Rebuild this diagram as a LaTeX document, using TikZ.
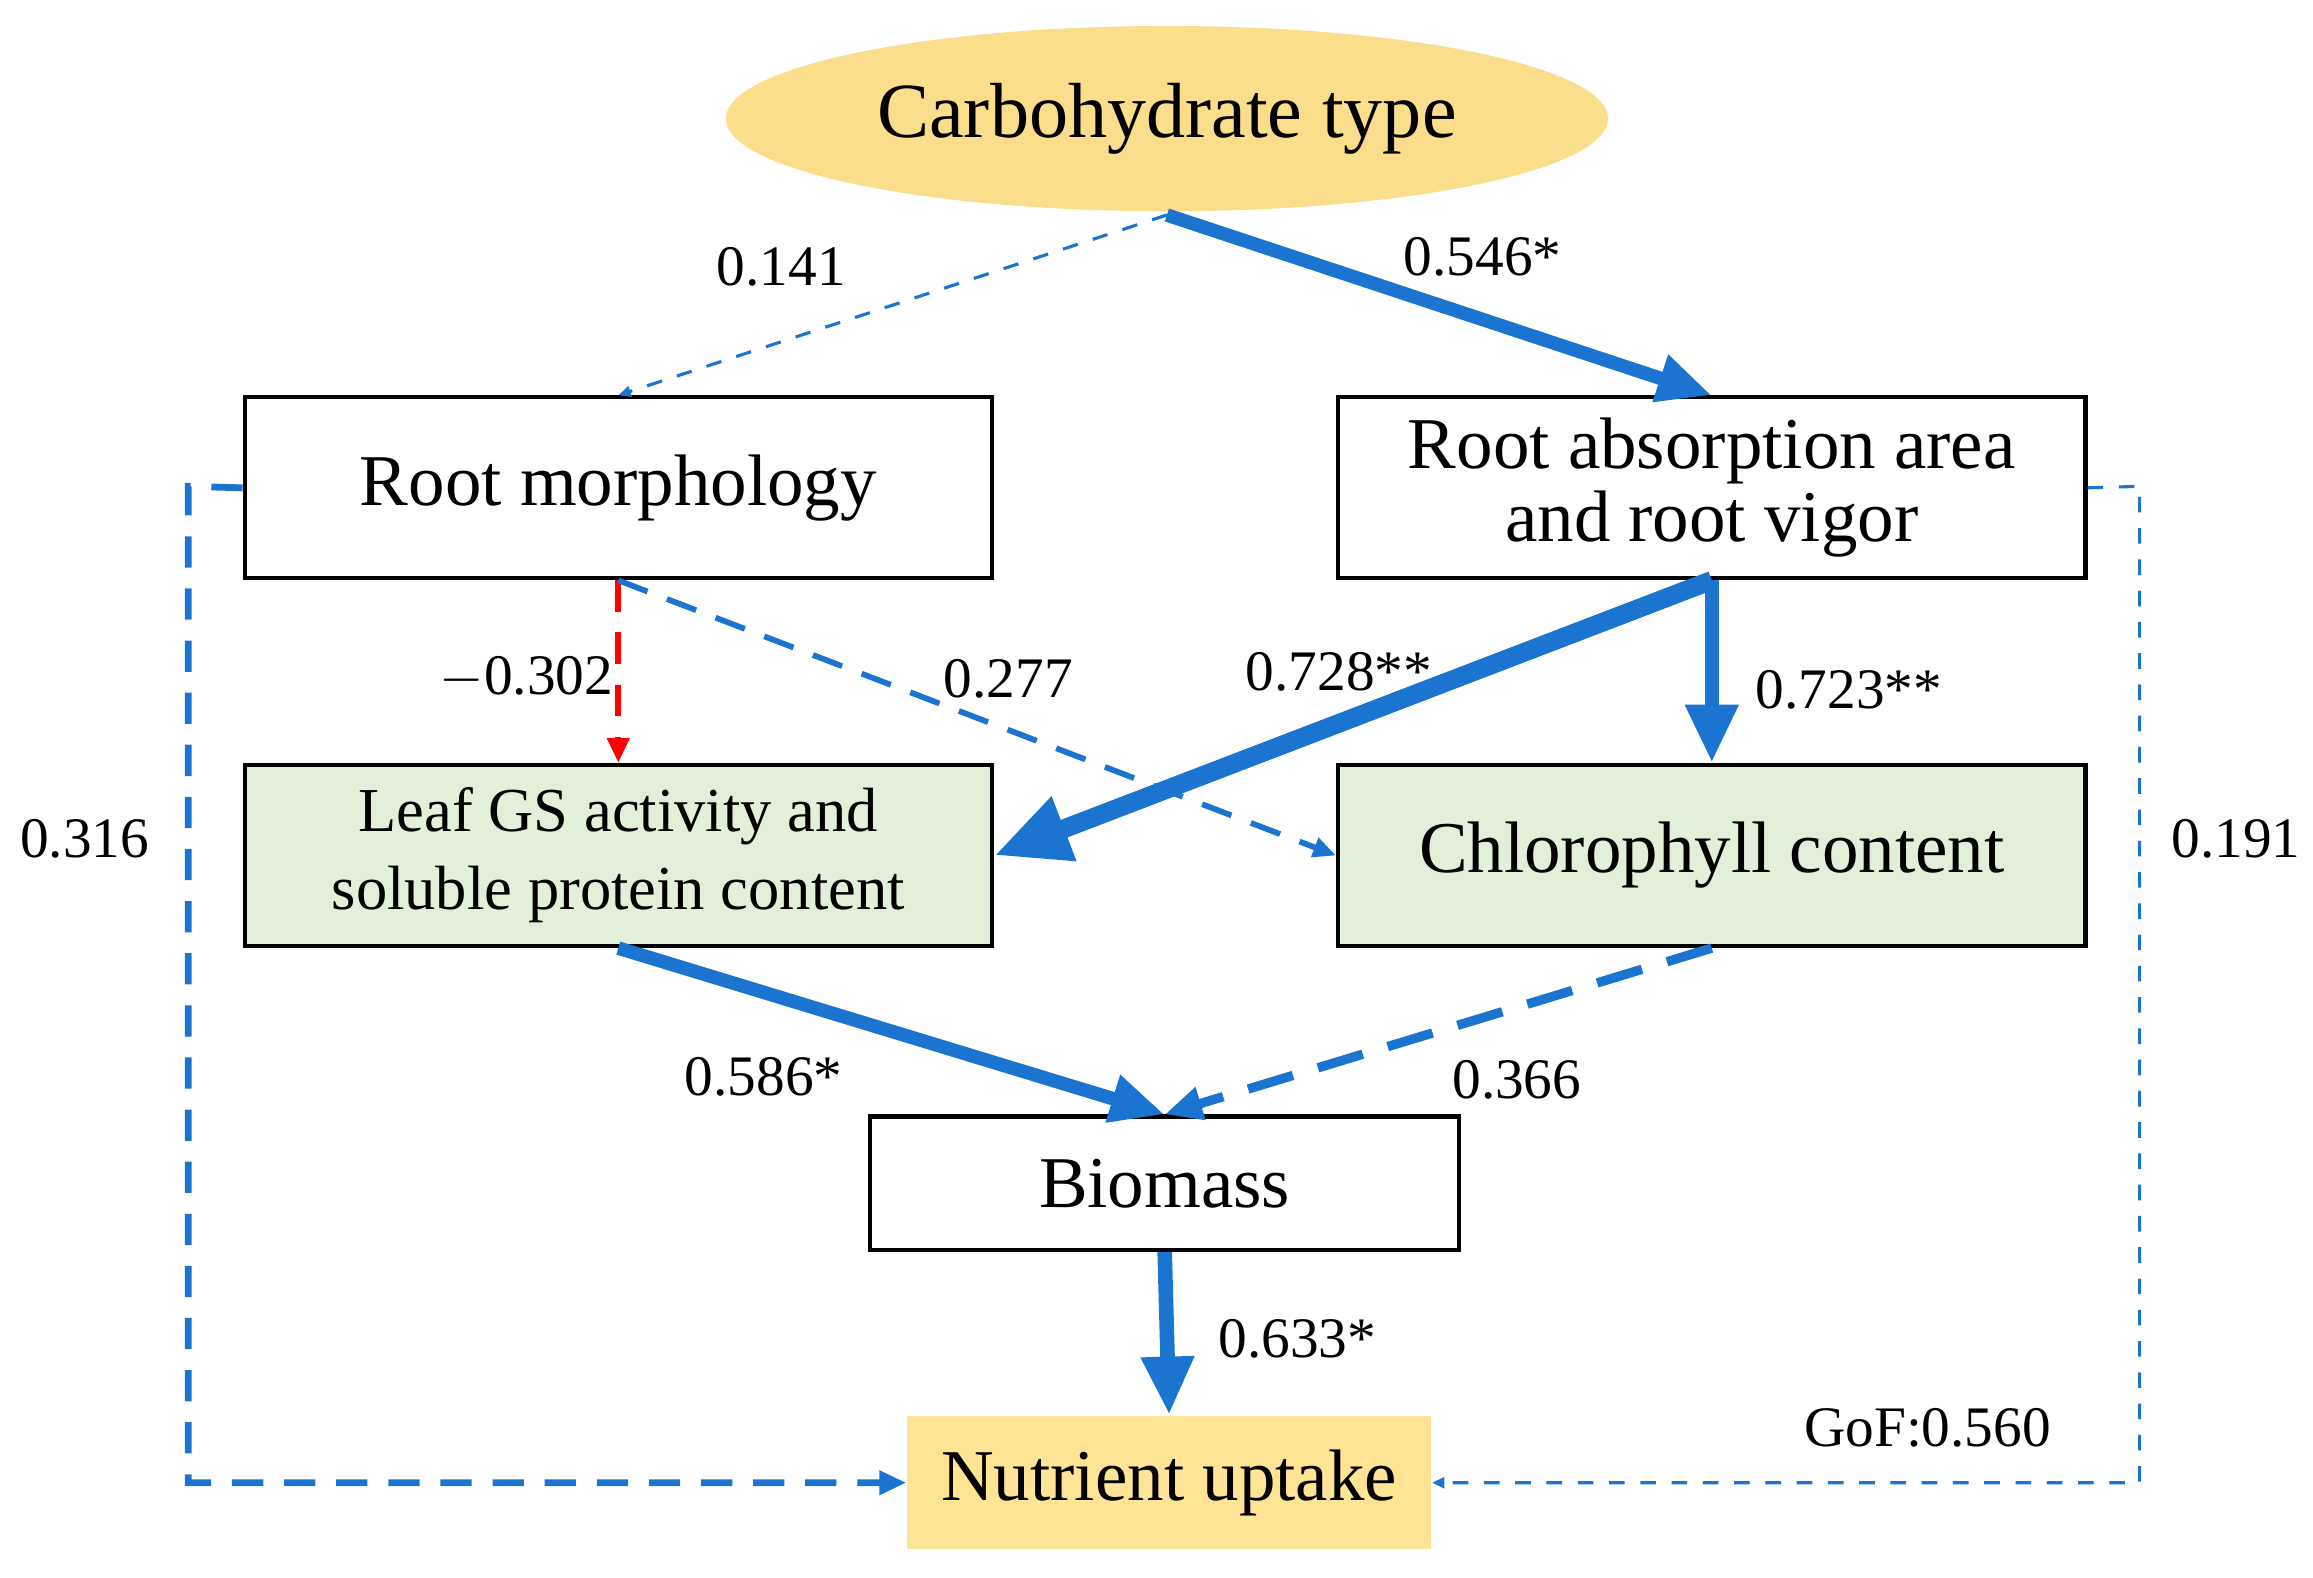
\documentclass[tikz,border=0pt]{standalone}
\usepackage{fontspec}
\setmainfont{Liberation Serif}
\usetikzlibrary{arrows.meta,positioning,shapes.geometric}
\definecolor{pathblue}{RGB}{27,117,208}
\definecolor{ovalyellow}{RGB}{250,222,140}
\definecolor{leafgreen}{RGB}{226,240,217}
\definecolor{uptakeyellow}{RGB}{255,228,150}
\tikzset{
  box/.style={draw, thick, minimum width=5.04cm, minimum height=1.22cm, align=center, font=\fontsize{14}{16}\selectfont},
  coef/.style={font=\fontsize{11}{13}\selectfont},
  path arrow/.style={draw=pathblue, -{Triangle[length=#1*4, width=#1*3.4]}, line width=#1},
}
\begin{document}
\begin{tikzpicture}
\useasboundingbox (0,0) rectangle (15.6,-10.64);
%Nodes
\node[ellipse, fill=ovalyellow, minimum width=5.95cm, minimum height=1.25cm, font=\fontsize{15}{17}\selectfont] (carb) at (7.87,-0.80) {Carbohydrate type};
\node[box] (morph) at (4.17,-3.29) {Root morphology};
\node[box] (absorb) at (11.545,-3.29) {Root absorption area\\[-2pt]and root vigor};
\node[box, fill=leafgreen, font=\fontsize{12}{15}\selectfont] (leaf) at (4.17,-5.77) {Leaf GS activity and\\soluble protein content};
\node[box, fill=leafgreen] (chloro) at (11.545,-5.77) {Chlorophyll content};
\node[box, minimum width=3.97cm, minimum height=0.9cm] (bio) at (7.855,-7.98) {Biomass};
\node[fill=uptakeyellow, minimum width=3.53cm, minimum height=0.9cm, font=\fontsize{14}{16}\selectfont] (uptake) at (7.885,-10.00) {Nutrient uptake};

\coordinate (carbB) at (7.87,-1.45);
\coordinate (leftT) at (1.27,-3.28);
\coordinate (leftB) at (1.27,-10.00);
\coordinate (rightT) at (14.43,-3.28);
\coordinate (rightB) at (14.43,-10.00);

%Paths
\draw[path arrow=0.6pt, dashed] (carbB) -- (morph.north);
\draw[path arrow=2.6pt] (carbB) -- (absorb.north);
\draw[path arrow=1.2pt, draw=red, dashed, dash pattern=on 6pt off 4pt] (morph.south) -- (leaf.north);
\draw[path arrow=1.1pt, dashed, dash pattern=on 6pt off 4pt] (morph.south) -- (chloro.west);
\draw[path arrow=3.6pt] (absorb.south) -- (leaf.east);
\draw[path arrow=2.8pt] (absorb.south) -- (chloro.north);
\draw[path arrow=2.6pt] (leaf.south) -- (bio.north);
\draw[path arrow=1.8pt, dashed, dash pattern=on 9pt off 5pt] (chloro.south) -- (bio.north);
\draw[path arrow=2.8pt] (bio.south) -- (uptake.north);
\draw[path arrow=1.3pt, dashed, dash pattern=on 6pt off 4pt] (morph.west) -- (leftT) -- (leftB) -- (uptake.west);
\draw[path arrow=0.6pt, dashed] (absorb.east) -- (rightT) -- (rightB) -- (uptake.east);

%Coefficients
\node[coef] (c141) at (5.27,-1.80) {0.141};
\node[coef] (c546) at (10.00,-1.73) {0.546*};
\node[coef] (c302) at (3.55,-4.57) {$-$0.302};
\node[coef] (c277) at (6.80,-4.58) {0.277};
\node[coef] (c728) at (9.03,-4.53) {0.728**};
\node[coef] (c723) at (12.47,-4.65) {0.723**};
\node[coef] (c586) at (5.15,-7.26) {0.586*};
\node[coef] (c366) at (10.23,-7.28) {0.366};
\node[coef] (c633) at (8.75,-9.03) {0.633*};
\node[coef] (c316) at (0.57,-5.66) {0.316};
\node[coef] (c191) at (15.08,-5.66) {0.191};
\node[coef] (gof) at (13.00,-9.63) {GoF:0.560};
\end{tikzpicture}
\end{document}
